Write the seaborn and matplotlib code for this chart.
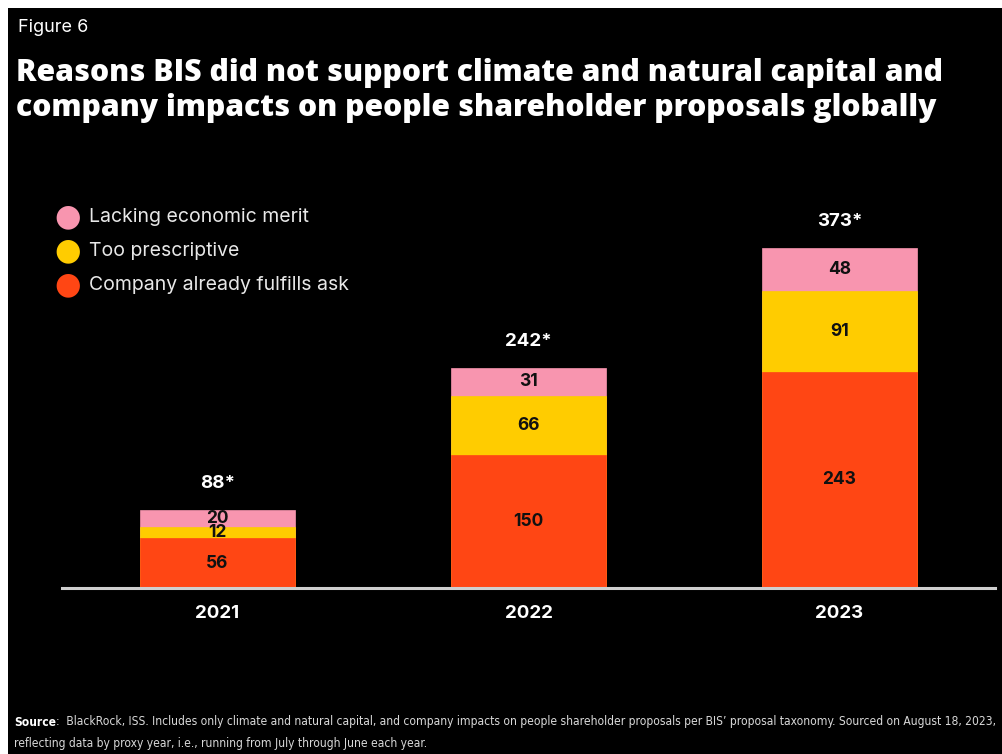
import matplotlib
matplotlib.use("Agg")
import matplotlib.pyplot as plt
from matplotlib.patches import Rectangle
import seaborn as sns
import pandas as pd

# Data
years = ["2021", "2022", "2023"]
fulfills = [56, 150, 243]
prescriptive = [12, 66, 91]
lacking_merit = [20, 31, 48]
totals_label = ["88*", "242*", "373*"]

series_names = ["Lacking economic merit", "Too prescriptive", "Company already fulfills ask"]
colors = {"Lacking economic merit": "#F895AF",
          "Too prescriptive": "#FFCC00",
          "Company already fulfills ask": "#FF4614"}

title_lines = ["Reasons BIS did not support climate and natural capital and",
               "company impacts on people shareholder proposals globally"]
source_text = (":  BlackRock, ISS. Includes only climate and natural capital, and company impacts on people "
               "shareholder proposals per BIS\u2019 proposal taxonomy. Sourced on August 18, 2023,")
source_text2 = "reflecting data by proxy year, i.e., running from July through June each year."

sns.set_theme(style="white")
plt.rcParams["font.family"] = ["Inter", "DejaVu Sans"]

W, H = 1003, 754
fig = plt.figure(figsize=(W / 100, H / 100), dpi=100, facecolor="white")
renderer = fig.canvas.get_renderer()
# black panel inset from the top-left edge
fig.patches.append(Rectangle((8 / W, 0), 1 - 8 / W, (H - 8) / H, transform=fig.transFigure,
                             facecolor="black", edgecolor="none", zorder=-10))


def fit_width(txt, target_px):
    """Rescale a text's font size so it spans target_px pixels."""
    w = txt.get_window_extent(renderer).width
    txt.set_fontsize(txt.get_fontsize() * target_px / w)


scale = 0.89  # pixels per unit
ytop = 430
ax_bottom_px = 588
ax = fig.add_axes([62 / W, (H - ax_bottom_px) / H, 933 / W, ytop * scale / H])
ax.set_facecolor("none")

df = pd.DataFrame({"year": years, "fulfills": fulfills,
                   "prescriptive": prescriptive, "lacking": lacking_merit})
df["lvl2"] = df["fulfills"] + df["prescriptive"]
df["lvl3"] = df["lvl2"] + df["lacking"]

# stacked bars drawn as overlapping cumulative layers
for col, name in [("lvl3", series_names[0]), ("lvl2", series_names[1]), ("fulfills", series_names[2])]:
    sns.barplot(data=df, x="year", y=col, color=colors[name], width=0.5,
                saturation=1, ax=ax, edgecolor=colors[name], linewidth=0.5)

ax.set_xlim(-0.5, 2.5)
ax.set_ylim(0, ytop)
ax.set_xlabel("")
ax.set_ylabel("")
ax.set_yticks([])
for s in ["top", "left", "right"]:
    ax.spines[s].set_visible(False)
ax.spines["bottom"].set_color("#cfcfcf")
ax.spines["bottom"].set_linewidth(2.2)
ax.tick_params(axis="x", length=0, pad=12, colors="white", labelsize=13.5)
for t in ax.get_xticklabels():
    t.set_fontweight("bold")

# segment labels and totals
for i in range(len(years)):
    bottoms = [0, fulfills[i], fulfills[i] + prescriptive[i]]
    vals = [fulfills[i], prescriptive[i], lacking_merit[i]]
    for b, v in zip(bottoms, vals):
        ax.text(i, b + v / 2, str(v), ha="center", va="center", color="#111111",
                fontsize=12.5, fontweight="bold")
    top = sum(vals)
    ax.annotate(totals_label[i], (i, top), xytext=(0, 13), textcoords="offset points",
                ha="center", va="bottom", color="white", fontsize=13.5, fontweight="bold")

# header
fig.text(18 / W, 1 - 28 / H, "Figure 6", color="white", fontsize=13, va="center", ha="left")
for line, y in zip(title_lines, [73, 108]):
    t = fig.text(16 / W, 1 - y / H, line, color="white", fontsize=20, fontweight="heavy",
                 va="center", ha="left", family=["Open Sans", "DejaVu Sans"])
    if line == title_lines[0]:
        fit_width(t, 927)
        title_size = t.get_fontsize()
    else:
        t.set_fontsize(title_size)

# legend
leg_y = [217, 251, 285]
for name, y in zip(series_names, leg_y):
    fig.text(68 / W, 1 - y / H, "\u25CF", color=colors[name], fontsize=22, ha="center",
             va="center", family=["DejaVu Sans"])
    fig.text(89 / W, 1 - y / H, name, color="#e8e8e8", fontsize=14, ha="left", va="center")

# footnote
foot_fam = ["DejaVu Sans"]
s1 = fig.text(14 / W, 1 - 722 / H, "Source", color="white", fontsize=9, fontweight="bold",
              va="center", ha="left", family=foot_fam, fontstretch="condensed")
s2 = fig.text(0, 1 - 722 / H, source_text, color="#d8d8d8", fontsize=9, va="center",
              ha="left", family=foot_fam, fontstretch="condensed")
s3 = fig.text(14 / W, 1 - 743 / H, source_text2, color="#d8d8d8", fontsize=9, va="center",
              ha="left", family=foot_fam, fontstretch="condensed")
w1 = s1.get_window_extent(renderer).width
w2 = s2.get_window_extent(renderer).width
k = (995 - 14) / (w1 + w2)
for s in (s1, s2, s3):
    s.set_fontsize(s.get_fontsize() * k)
w1 = s1.get_window_extent(renderer).width
s2.set_x((14 + w1) / W)

fig.savefig("out.png", dpi=100, facecolor=fig.get_facecolor())
